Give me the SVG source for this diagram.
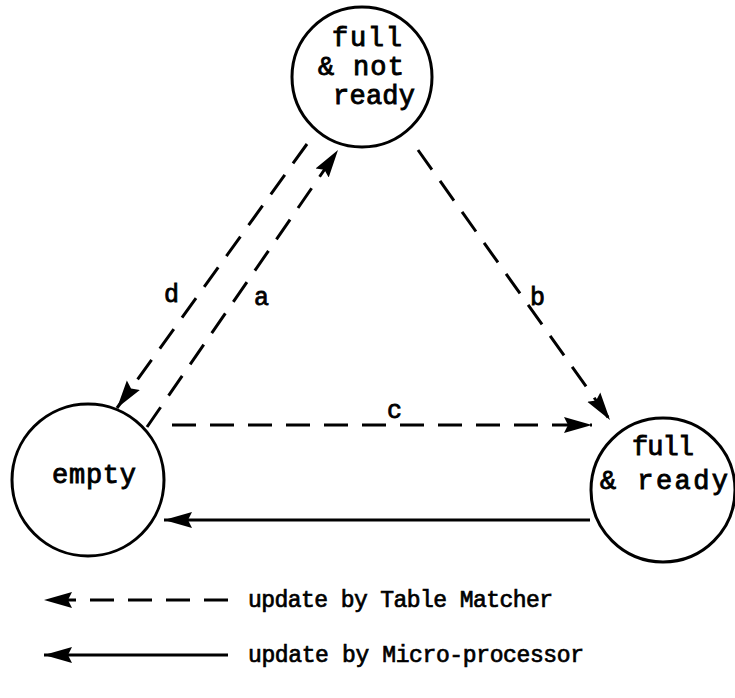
<svg xmlns="http://www.w3.org/2000/svg" width="735" height="698" viewBox="0 0 735 698">
<defs>
<marker id="ah" viewBox="0 0 28 18" refX="28" refY="9" markerWidth="28" markerHeight="18" markerUnits="userSpaceOnUse" orient="auto">
<path d="M0,1 L28,9 L0,17 L4,9 Z" fill="#000"/>
</marker>
<style>
.node{fill:#fff;stroke:#000;stroke-width:3}
.t{font-family:"Liberation Mono","Courier New",monospace;font-size:27px;fill:#000;stroke:#000;stroke-width:0.9}
.lbl{font-family:"Liberation Mono","Courier New",monospace;font-size:25px;fill:#000;stroke:#000;stroke-width:0.8}
.lg{font-family:"Liberation Mono","Courier New",monospace;font-size:23px;fill:#000;stroke:#000;stroke-width:0.7}
.dash{fill:none;stroke:#000;stroke-width:3;stroke-dasharray:24 14}
.solid{fill:none;stroke:#000;stroke-width:3}
</style>
</defs>
<rect width="735" height="698" fill="#fff"/>
<g id="node-full-not-ready">
<circle class="node" cx="362" cy="77" r="70"/>
<text class="t" x="332" y="46" textLength="70">full</text>
<text class="t" x="318" y="75" textLength="86">&amp; not</text>
<text class="t" x="333" y="104" textLength="82">ready</text>
</g>
<g id="node-empty">
<circle class="node" cx="88" cy="480" r="76"/>
<text class="t" x="52" y="483" textLength="84">empty</text>
</g>
<g id="node-full-ready">
<circle class="node" cx="663" cy="490" r="72"/>
<text class="t" x="632" y="455" textLength="62">full</text>
<text class="t" x="600" y="489" textLength="128">&amp; ready</text>
</g>
<g id="connectors">
<path class="dash" d="M307,144 L117,408" marker-end="url(#ah)"/>
<path class="dash" d="M147,427 L338,150" marker-end="url(#ah)"/>
<path class="dash" d="M418,150 L610,420" marker-end="url(#ah)"/>
<path class="dash" d="M172,425 L592,425" marker-end="url(#ah)"/>
<path class="solid" d="M590,520 L164,520" marker-end="url(#ah)"/>
<text class="lbl" x="164" y="302">d</text>
<text class="lbl" x="254" y="305">a</text>
<text class="lbl" x="530" y="305">b</text>
<text class="lbl" x="387" y="418">c</text>
</g>
<g id="legend">
<path class="dash" d="M228,600 L44,600" marker-end="url(#ah)"/>
<text class="lg" x="248" y="607" textLength="305">update by Table Matcher</text>
<path class="solid" d="M228,655 L44,655" marker-end="url(#ah)"/>
<text class="lg" x="248" y="662" textLength="336">update by Micro-processor</text>
</g>
</svg>
